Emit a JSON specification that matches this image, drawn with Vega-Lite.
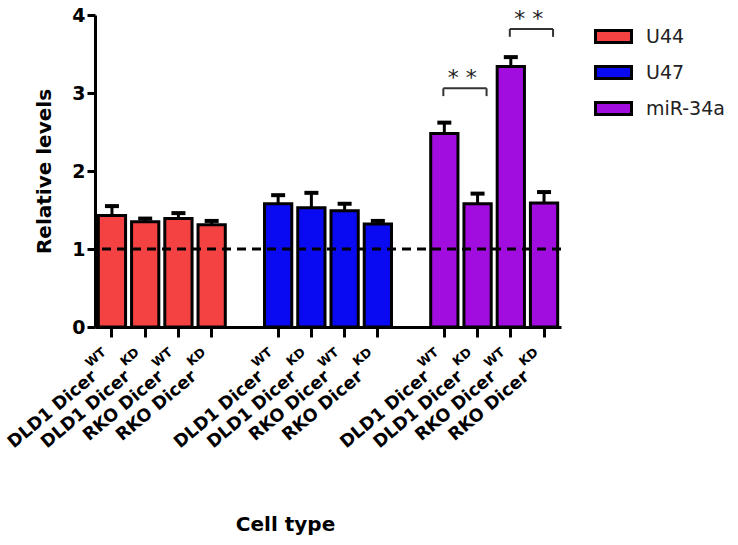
{
  "$schema": "https://vega.github.io/schema/vega-lite/v6.json",
  "width": 466,
  "height": 312,
  "autosize": {"type": "none"},
  "padding": {"left": 95, "top": 15, "right": 177, "bottom": 218},
  "background": "white",
  "config": {"font": "DejaVu Sans", "view": {"stroke": null}},
  "datasets": {
    "bars": [
      {"group": "U44", "sample": "U44|DLD1 Dicer|WT", "sup": "WT", "value": 1.43, "upper": 1.55},
      {"group": "U44", "sample": "U44|DLD1 Dicer|KD", "sup": "KD", "value": 1.35, "upper": 1.39},
      {"group": "U44", "sample": "U44|RKO Dicer|WT", "sup": "WT", "value": 1.39, "upper": 1.46},
      {"group": "U44", "sample": "U44|RKO Dicer|KD", "sup": "KD", "value": 1.31, "upper": 1.36},
      {"group": "U47", "sample": "U47|DLD1 Dicer|WT", "sup": "WT", "value": 1.58, "upper": 1.69},
      {"group": "U47", "sample": "U47|DLD1 Dicer|KD", "sup": "KD", "value": 1.53, "upper": 1.72},
      {"group": "U47", "sample": "U47|RKO Dicer|WT", "sup": "WT", "value": 1.49, "upper": 1.58},
      {"group": "U47", "sample": "U47|RKO Dicer|KD", "sup": "KD", "value": 1.32, "upper": 1.36},
      {"group": "miR-34a", "sample": "miR-34a|DLD1 Dicer|WT", "sup": "WT", "value": 2.48, "upper": 2.62},
      {"group": "miR-34a", "sample": "miR-34a|DLD1 Dicer|KD", "sup": "KD", "value": 1.58, "upper": 1.71},
      {"group": "miR-34a", "sample": "miR-34a|RKO Dicer|WT", "sup": "WT", "value": 3.34, "upper": 3.46},
      {"group": "miR-34a", "sample": "miR-34a|RKO Dicer|KD", "sup": "KD", "value": 1.59, "upper": 1.73}
    ],
    "brackets": [
      {"from": "miR-34a|DLD1 Dicer|WT", "to": "miR-34a|DLD1 Dicer|KD", "top": 3.06, "bottom": 2.96, "label": "* *"},
      {"from": "miR-34a|RKO Dicer|WT", "to": "miR-34a|RKO Dicer|KD", "top": 3.82, "bottom": 3.72, "label": "* *"}
    ]
  },
  "layer": [
    {
      "data": {"name": "bars"},
      "mark": {"type": "bar", "stroke": "black", "strokeWidth": 3, "strokeJoin": "miter"},
      "encoding": {
        "x": {
          "field": "sample", "type": "nominal", "sort": null,
          "scale": {
            "domain": ["U44|DLD1 Dicer|WT", "U44|DLD1 Dicer|KD", "U44|RKO Dicer|WT", "U44|RKO Dicer|KD", "gap1",
                       "U47|DLD1 Dicer|WT", "U47|DLD1 Dicer|KD", "U47|RKO Dicer|WT", "U47|RKO Dicer|KD", "gap2",
                       "miR-34a|DLD1 Dicer|WT", "miR-34a|DLD1 Dicer|KD", "miR-34a|RKO Dicer|WT", "miR-34a|RKO Dicer|KD"],
            "paddingInner": 0.18, "paddingOuter": 0.1
          },
          "axis": {
            "title": "Cell type",
            "values": ["U44|DLD1 Dicer|WT", "U44|DLD1 Dicer|KD", "U44|RKO Dicer|WT", "U44|RKO Dicer|KD",
                       "U47|DLD1 Dicer|WT", "U47|DLD1 Dicer|KD", "U47|RKO Dicer|WT", "U47|RKO Dicer|KD",
                       "miR-34a|DLD1 Dicer|WT", "miR-34a|DLD1 Dicer|KD", "miR-34a|RKO Dicer|WT", "miR-34a|RKO Dicer|KD"],
            "labelExpr": "split(datum.label, '|')[1]",
            "labelAngle": -40, "labelAlign": "right", "labelBaseline": "top",
            "labelFont": "DejaVu Sans", "labelFontWeight": "bold", "labelFontSize": 17.5, "labelColor": "black",
            "labelPadding": 30, "labelOffset": -23, "labelOverlap": false, "labelBound": false,
            "tickColor": "black", "tickWidth": 3, "tickSize": 10,
            "domainColor": "black", "domainWidth": 3,
            "titleFont": "DejaVu Sans", "titleFontSize": 20, "titleFontWeight": "bold", "titleColor": "black",
            "titleX": 190, "titleY": 203, "titleAlign": "center", "titleBaseline": "alphabetic"
          }
        },
        "y": {
          "field": "value", "type": "quantitative",
          "scale": {"domain": [0, 4], "nice": false},
          "axis": {
            "title": "Relative levels", "values": [0, 1, 2, 3, 4], "format": "d", "grid": false,
            "labelFont": "DejaVu Sans", "labelFontSize": 19, "labelFontWeight": "bold", "labelColor": "black", "labelPadding": 2,
            "tickSize": 8, "tickWidth": 3, "tickColor": "black",
            "domainWidth": 3, "domainColor": "black",
            "titleFont": "DejaVu Sans", "titleFontSize": 20, "titleFontWeight": "bold", "titleColor": "black", "titlePadding": 17
          }
        },
        "fill": {
          "field": "group", "type": "nominal",
          "scale": {"domain": ["U44", "U47", "miR-34a"], "range": ["#F44242", "#0A0AF2", "#A10DDE"]},
          "legend": {
            "title": null, "orient": "right", "offset": 31, "padding": 2,
            "symbolType": "M-1,-0.34H1V0.34H-1Z", "symbolSize": 1296,
            "symbolStrokeColor": "black", "symbolStrokeWidth": 3, "symbolOpacity": 1,
            "labelFont": "DejaVu Sans", "labelFontSize": 19, "labelColor": "#222", "labelOffset": 13,
            "rowPadding": 4
          }
        }
      }
    },
    {
      "data": {"name": "bars"},
      "mark": {"type": "text", "angle": 320, "align": "right", "baseline": "top", "font": "DejaVu Sans", "fontWeight": "bold", "fontSize": 12.5, "color": "black", "dx": -21, "dy": 7},
      "encoding": {
        "x": {"field": "sample", "type": "nominal", "sort": null},
        "y": {"datum": 0, "type": "quantitative"},
        "text": {"field": "sup"}
      }
    },
    {
      "data": {"name": "bars"},
      "mark": {"type": "rule", "color": "black", "strokeWidth": 3},
      "encoding": {
        "x": {"field": "sample", "type": "nominal", "sort": null},
        "y": {"field": "value", "type": "quantitative"},
        "y2": {"field": "upper"}
      }
    },
    {
      "data": {"name": "bars"},
      "mark": {"type": "tick", "orient": "horizontal", "color": "black", "opacity": 1, "size": 14, "thickness": 4},
      "encoding": {
        "x": {"field": "sample", "type": "nominal", "sort": null},
        "y": {"field": "upper", "type": "quantitative"}
      }
    },
    {
      "data": {"values": [{}]},
      "mark": {"type": "rule", "color": "black", "strokeWidth": 3, "strokeDash": [9, 6]},
      "encoding": {"y": {"datum": 1, "type": "quantitative"}}
    },
    {
      "data": {"name": "brackets"},
      "mark": {"type": "rule", "color": "#333", "strokeWidth": 2, "xOffset": -1, "x2Offset": 9},
      "encoding": {
        "x": {"field": "from", "type": "nominal", "sort": null},
        "x2": {"field": "to"},
        "y": {"field": "top", "type": "quantitative"}
      }
    },
    {
      "data": {"name": "brackets"},
      "mark": {"type": "rule", "color": "#333", "strokeWidth": 2, "xOffset": -1},
      "encoding": {
        "x": {"field": "from", "type": "nominal", "sort": null},
        "y": {"field": "top", "type": "quantitative"},
        "y2": {"field": "bottom"}
      }
    },
    {
      "data": {"name": "brackets"},
      "mark": {"type": "rule", "color": "#333", "strokeWidth": 2, "xOffset": 9},
      "encoding": {
        "x": {"field": "to", "type": "nominal", "sort": null},
        "y": {"field": "top", "type": "quantitative"},
        "y2": {"field": "bottom"}
      }
    },
    {
      "data": {"name": "brackets"},
      "mark": {"type": "text", "color": "#222", "fontSize": 22, "font": "DejaVu Sans", "baseline": "alphabetic", "align": "center", "dx": 18, "dy": -3},
      "encoding": {
        "x": {"field": "from", "type": "nominal", "sort": null},
        "y": {"field": "top", "type": "quantitative"},
        "text": {"field": "label"}
      }
    }
  ]
}
